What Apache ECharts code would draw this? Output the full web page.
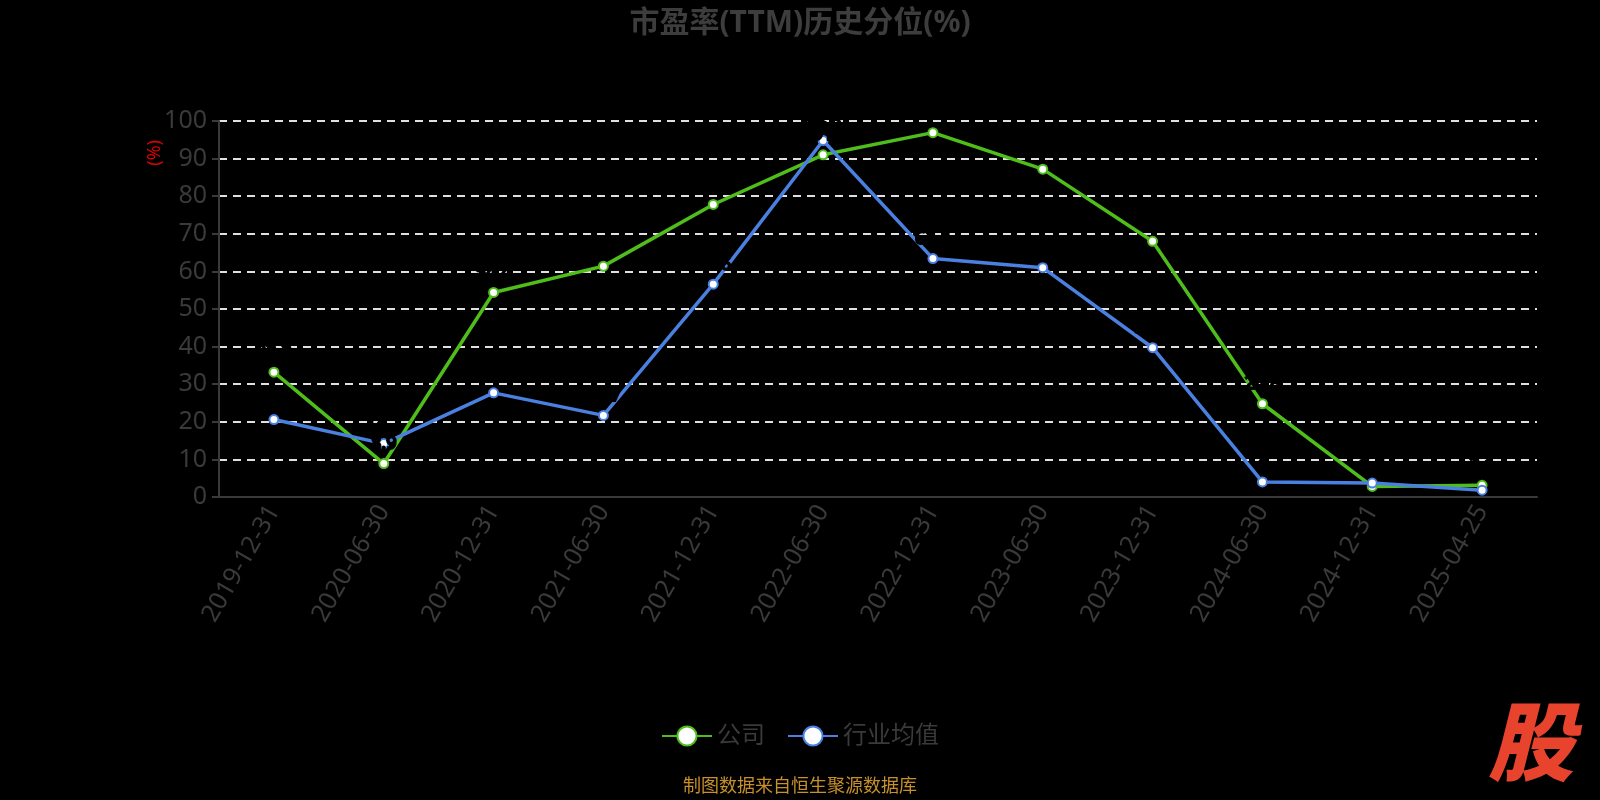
<!DOCTYPE html>
<html>
<head>
<meta charset="utf-8">
<title>市盈率(TTM)历史分位(%)</title>
<script src="https://cdn.jsdelivr.net/npm/echarts@6/dist/echarts.min.js"></script>
<style>
  html, body { margin: 0; padding: 0; background: #000; }
  #chart { width: 1600px; height: 800px; }
</style>
</head>
<body>
<div id="chart"></div>
<script>
  // 报告期
  var dates = ['2019-12-31', '2020-06-30', '2020-12-31', '2021-06-30', '2021-12-31', '2022-06-30',
               '2022-12-31', '2023-06-30', '2023-12-31', '2024-06-30', '2024-12-31', '2025-04-25'];
  // 公司 市盈率分位
  var companyData = [33.2, 8.9, 54.4, 61.4, 77.8, 91.0, 96.9, 87.2, 68.0, 24.8, 2.8, 3.1];
  // 行业均值
  var industryData = [20.6, 14.2, 27.7, 21.7, 56.6, 94.8, 63.4, 61.0, 39.7, 4.0, 3.7, 1.8];

  var green = '#4fbd1a';
  var blue = '#4a80e0';
  var fontFamily = '"Noto Sans", "Noto Sans CJK SC", sans-serif';

  var chart = echarts.init(document.getElementById('chart'));

  function lineSeries(name, data, color) {
    return {
      name: name,
      type: 'line',
      data: data,
      symbol: 'circle',
      symbolSize: 9,
      z: 2,
      lineStyle: { color: color, width: 3.5 },
      itemStyle: { color: '#fff', borderColor: color, borderWidth: 2 },
      label: {
        show: true,
        position: 'top',
        color: '#000',
        fontSize: 18,
        fontFamily: fontFamily,
        textBorderColor: '#000',
        textBorderWidth: 2
      }
    };
  }

  var option = {
    backgroundColor: '#000',
    textStyle: { fontFamily: fontFamily },
    title: {
      text: '市盈率(TTM)历史分位(%)',
      left: 'center',
      top: 3,
      textStyle: { color: '#3d3d3d', fontSize: 30, fontWeight: 'bold', fontFamily: fontFamily }
    },
    legend: {
      bottom: 47,
      left: 'center',
      itemWidth: 50,
      itemHeight: 24,
      itemGap: 22,
      textStyle: { color: '#3a3a3a', fontSize: 24 },
      data: ['公司', '行业均值']
    },
    grid: {
      left: 219,
      right: 63,
      top: 121,
      bottom: 303
    },
    xAxis: {
      type: 'category',
      data: dates,
      boundaryGap: true,
      axisLine: { lineStyle: { color: '#3a3a3a', width: 2 } },
      axisTick: { lineStyle: { color: '#3a3a3a', width: 2 }, length: 7 },
      axisLabel: { color: '#3a3a3a', fontSize: 25, rotate: 60, interval: 0, margin: 10 }
    },
    yAxis: {
      type: 'value',
      min: 0,
      max: 100,
      interval: 10,
      axisLine: { show: true, lineStyle: { color: '#3a3a3a', width: 2 } },
      axisTick: { show: true, length: 7, lineStyle: { color: '#3a3a3a', width: 2 } },
      axisLabel: { color: '#3a3a3a', fontSize: 25, margin: 12 },
      splitLine: { lineStyle: { color: '#e0e0e0', type: [8, 6], width: 2 } }
    },
    graphic: [
      {
        type: 'text',
        left: 146,
        top: 140,
        rotation: Math.PI / 2,
        style: { text: '(%)', fill: '#e00000', fontSize: 18, fontFamily: fontFamily }
      },
      {
        type: 'text',
        left: 'center',
        top: 778,
        style: { text: '制图数据来自恒生聚源数据库', fill: '#c8902a', fontSize: 18, fontFamily: fontFamily }
      },
      {
        type: 'text',
        left: 1488,
        top: 698,
        style: { text: '股', fill: '#e8432d', fontSize: 86, fontWeight: 900, fontStyle: 'italic', fontFamily: '"Noto Sans CJK SC", sans-serif' }
      }
    ],
    series: [
      lineSeries('公司', companyData, green),
      lineSeries('行业均值', industryData, blue)
    ]
  };

  chart.setOption(option);
</script>
</body>
</html>
